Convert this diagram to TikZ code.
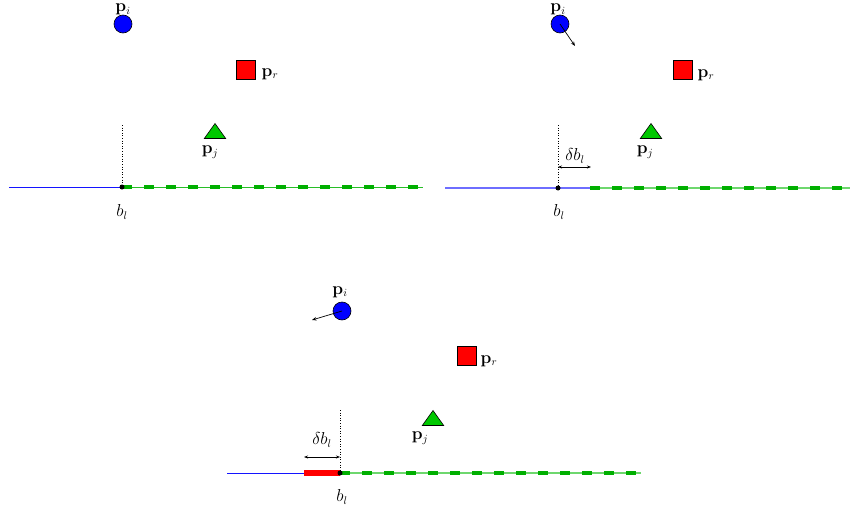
\documentclass[tikz,border=0pt]{standalone}
\usetikzlibrary{shapes.geometric,arrows.meta}
\definecolor{dashgreen}{RGB}{0,175,0}
\definecolor{thingreen}{RGB}{40,190,40}
\definecolor{lightgreen}{RGB}{110,215,110}
\definecolor{lightblue}{RGB}{110,110,255}
\definecolor{trigreen}{RGB}{0,200,0}
\definecolor{pureblue}{RGB}{0,0,255}
\definecolor{lineblue}{RGB}{20,20,255}
\begin{document}
\begin{tikzpicture}[x=1pt,y=-1pt,
  ptcirc/.style={circle,draw,fill=pureblue,minimum size=18pt,inner sep=0pt,line width=0.6pt},
  ptsq/.style={rectangle,draw,fill=red,minimum size=19pt,inner sep=0pt,line width=0.6pt},
  pttri/.style={isosceles triangle,isosceles triangle apex angle=71,shape border rotate=90,draw,fill=trigreen,inner sep=0pt,minimum width=21pt,minimum height=15pt,line width=0.6pt},
  lbl/.style={inner sep=0pt,font=\fontsize{16}{19}\selectfont},
  blueline/.style={draw=lineblue,line width=1pt},
  lblueline/.style={draw=lightblue,line width=1.3pt},
  greenline/.style={draw=thingreen,line width=0.9pt},
  lgreenline/.style={draw=lightgreen,line width=1.3pt},
  greendash/.style={draw=dashgreen,line width=4pt,dash pattern=on 10pt off 12pt},
  dotline/.style={black,dotted,line width=0.6pt},
  dimarrow/.style={{Stealth[length=4pt,width=3pt]}-{Stealth[length=4pt,width=3pt]},line width=0.7pt},
  velarrow/.style={-{Stealth[length=4.5pt,width=3.5pt]},line width=0.7pt},
  redbar/.style={draw=red,line width=6pt}
]
\useasboundingbox (0,0) rectangle (851,514);

% ---------- panel 1 ----------
\node[ptcirc] (pi1) at (123,24) {};
\node[lbl,anchor=south] (lpi1) at (123,15) {$\mathbf{p}_i$};
\node[ptsq] (pr1) at (246,70) {};
\node[lbl] (lpr1) at (270,74) {$\mathbf{p}_r$};
\node[pttri] (pj1) at (215,133) {};
\node[lbl] (lpj1) at (210,152) {$\mathbf{p}_j$};
\coordinate (L1) at (9,187);
\coordinate (B1) at (122,187);
\coordinate (R1) at (423,187);
\coordinate (T1) at (122,125);
\draw[blueline] (L1) -- (B1);
\draw[greenline] (B1) -- (R1);
\draw[greendash] (B1) -- (R1);
\draw[dotline] (T1) -- (B1);
\fill (B1) circle (2.5);
\node[lbl] (bl1) at (122,212) {$b_l$};

% ---------- panel 2 ----------
\node[ptcirc] (pi2) at (560,24) {};
\node[lbl,anchor=south] (lpi2) at (558,15) {$\mathbf{p}_i$};
\coordinate (v2) at (575,46);
\draw[velarrow] (pi2.center) -- (v2);
\node[ptsq] (pr2) at (683,70) {};
\node[lbl] (lpr2) at (706,75) {$\mathbf{p}_r$};
\node[pttri] (pj2) at (651,133) {};
\node[lbl] (lpj2) at (645,152) {$\mathbf{p}_j$};
\coordinate (L2) at (445,188);
\coordinate (B2) at (558,188);
\coordinate (D2) at (590,188);
\coordinate (R2) at (850,188);
\coordinate (T2) at (558,125);
\coordinate (A2a) at (558,167);
\coordinate (A2b) at (591,167);
\draw[lblueline] (L2) -- (D2);
\draw[lgreenline] (D2) -- (R2);
\draw[greendash] (D2) -- (R2);
\draw[dotline] (T2) -- (B2);
\draw[dimarrow] (A2a) -- (A2b);
\node[lbl] (db2) at (575,156) {$\delta b_l$};
\fill (B2) circle (2.5);
\node[lbl] (bl2) at (559,212) {$b_l$};

% ---------- panel 3 ----------
\node[ptcirc] (pi3) at (342,311) {};
\node[lbl] (lpi3) at (340,292) {$\mathbf{p}_i$};
\coordinate (v3) at (312,320);
\draw[velarrow] (pi3.center) -- (v3);
\node[ptsq] (pr3) at (467,356) {};
\node[lbl] (lpr3) at (489,361) {$\mathbf{p}_r$};
\node[pttri] (pj3) at (433,420) {};
\node[lbl] (lpj3) at (420,438) {$\mathbf{p}_j$};
\coordinate (L3) at (227,473);
\coordinate (D3) at (304,473);
\coordinate (B3) at (340,473);
\coordinate (R3) at (641,473);
\coordinate (T3) at (340,410);
\coordinate (A3a) at (304,457);
\coordinate (A3b) at (340,457);
\draw[blueline] (L3) -- (D3);
\draw[redbar] (D3) -- (B3);
\draw[lgreenline] (B3) -- (R3);
\draw[greendash] (B3) -- (R3);
\draw[dotline] (T3) -- (B3);
\draw[dimarrow] (A3a) -- (A3b);
\node[lbl] (db3) at (322,440) {$\delta b_l$};
\fill (B3) circle (2.5);
\node[lbl] (bl3) at (342,497) {$b_l$};
\end{tikzpicture}
\end{document}
